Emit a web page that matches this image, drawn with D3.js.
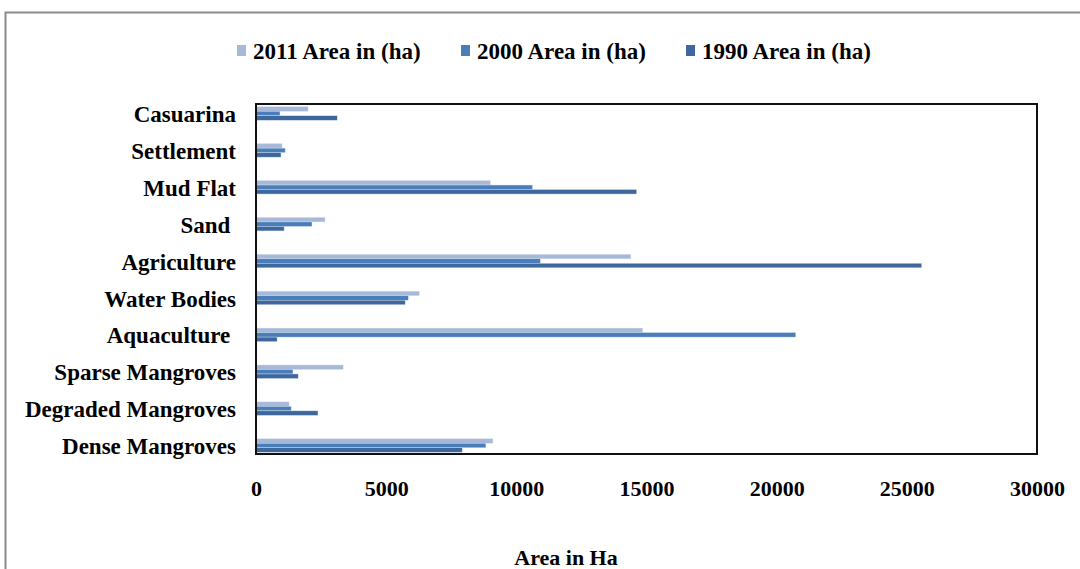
<!DOCTYPE html>
<html>
<head>
<meta charset="utf-8">
<title>Area in Ha</title>
<style>
    body { margin: 0; background: #fff; }
    svg text { font-family: "Liberation Serif", "Times New Roman", serif; font-weight: bold; fill: #000; }
</style>
</head>
<body>
<div id="chart"></div>
<script src="https://d3js.org/d3.v7.min.js"></script>
<script>

// data
var categories = ["Casuarina", "Settlement", "Mud Flat", "Sand ", "Agriculture",
                  "Water Bodies", "Aquaculture ", "Sparse Mangroves", "Degraded Mangroves", "Dense Mangroves"];
var area2011 = [2000, 1000, 9000, 2650, 14400, 6270, 14850, 3350, 1270, 9100];
var area2000 = [920, 1120, 10620, 2150, 10920, 5850, 20730, 1420, 1350, 8830];
var area1990 = [3120, 960, 14620, 1080, 25570, 5730, 810, 1620, 2380, 7920];
var seriesNames = ["2011 Area in (ha)", "2000 Area in (ha)", "1990 Area in (ha)"];
var xTicks = [0, 5000, 10000, 15000, 20000, 25000, 30000];

var colors = ["#A8B8D8", "#4A7EBB", "#3E689D"];
var series = [area2011, area2000, area1990];

var W = 1080, H = 569;
var plot = {left: 256, top: 104, right: 1037, bottom: 454};

var svg = d3.select("#chart").append("svg")
    .attr("width", W)
    .attr("height", H);

// outer chart border
svg.append("rect")
    .attr("x", 5.5).attr("y", 12.5)
    .attr("width", 1100).attr("height", 600)
    .attr("fill", "none")
    .attr("stroke", "#8a8a8a")
    .attr("stroke-width", 2);

var x = d3.scaleLinear()
    .domain([0, 30000])
    .range([plot.left, plot.right]);

// category centres
var y = d3.scalePoint()
    .domain(categories)
    .range([113.5, 445.5]);

var barH = 4.5;

// bars, 2011 on top of each group then 2000 then 1990
series.forEach(function(vals, s) {
    svg.append("g")
        .selectAll("rect")
        .data(vals)
        .enter().append("rect")
        .attr("x", x(0))
        .attr("y", function(d, i) { return y(categories[i]) - 1.5 * barH + s * barH; })
        .attr("width", function(d) { return x(d) - x(0); })
        .attr("height", barH)
        .attr("fill", colors[s])
        .attr("stroke", "#d4deee")
        .attr("stroke-width", 0.4);
});

// plot frame
svg.append("rect")
    .attr("x", plot.left).attr("y", plot.top)
    .attr("width", plot.right - plot.left)
    .attr("height", plot.bottom - plot.top)
    .attr("fill", "none")
    .attr("stroke", "#111")
    .attr("stroke-width", 2);

// y axis labels
var yAxis = svg.append("g")
    .attr("transform", "translate(" + plot.left + ",0)")
    .call(d3.axisLeft(y).tickSize(0).tickPadding(20));
yAxis.select(".domain").remove();
yAxis.selectAll("text")
    .style("font-size", "23px")
    .style("font-family", "'Liberation Serif', serif")
    .style("white-space", "pre")
    .attr("dy", "0.35em");

// x axis labels
var xAxis = svg.append("g")
    .attr("transform", "translate(0," + plot.bottom + ")")
    .call(d3.axisBottom(x).tickValues(xTicks).tickFormat(d3.format("d")).tickSize(0).tickPadding(26));
xAxis.select(".domain").remove();
xAxis.selectAll("text")
    .style("font-size", "22px")
    .style("font-family", "'Liberation Serif', serif");

// axis title
svg.append("text")
    .attr("x", 566)
    .attr("y", 565)
    .attr("text-anchor", "middle")
    .style("font-size", "22px")
    .text("Area in Ha");

// legend
var legendX = [237, 461, 686];
var legend = svg.append("g");
seriesNames.forEach(function(name, i) {
    legend.append("rect")
        .attr("x", legendX[i]).attr("y", 45)
        .attr("width", 9).attr("height", 11)
        .attr("fill", colors[i]);
    legend.append("text")
        .attr("x", legendX[i] + 16)
        .attr("y", 59)
        .style("font-size", "23px")
        .text(name);
});

</script>
</body>
</html>
